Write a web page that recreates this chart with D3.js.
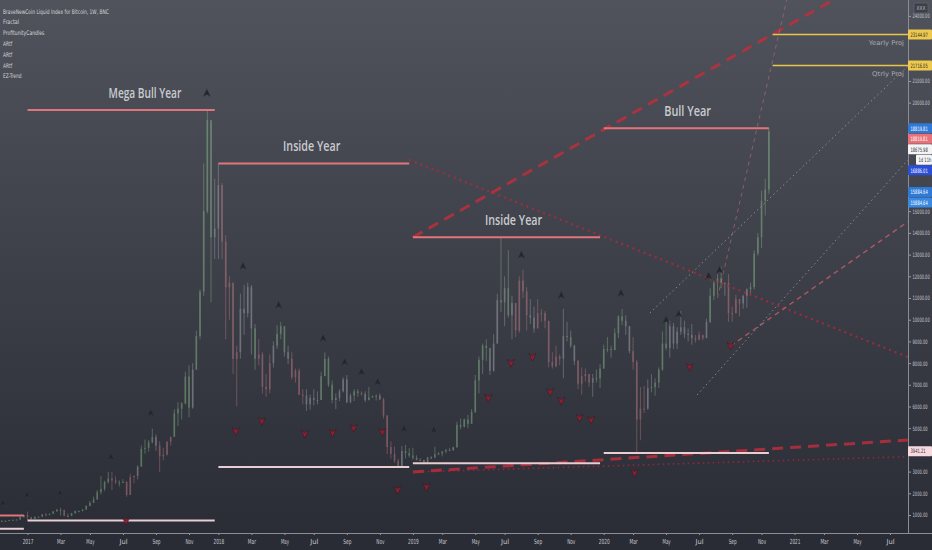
<!DOCTYPE html>
<html><head><meta charset="utf-8">
<script src="https://cdn.jsdelivr.net/npm/d3@7"></script>
<style>
html,body{margin:0;padding:0;background:#2a2c35;}
svg{display:block;font-family:"Liberation Sans Narrow","DejaVu Sans Condensed","Roboto","Liberation Sans",sans-serif;}
</style></head><body>
<svg id="chart" width="932" height="550"></svg>
<script>
// ---------------- DATA ----------------
const firstWeek = "2016-11-14";
const firstOpen = 703;
const closes = [
 730,732,766,780,790,896,1000,
 908,820,920,920,1025,1000,1055,1165,1235,1235,960,960,1080,1180,1180,1250,1420,1560,1720,2050,2200,2520,2680,2590,2500,2500,2520,1920,2750,2800,3230,4050,4090,4350,4600,4200,3700,3780,4380,4600,5680,5900,6140,7380,5950,7700,9250,11300,15000,19200,13800,14200,
 16200,13600,11500,11700,8200,8500,10500,10300,11500,9600,8200,8400,6900,6800,8000,8800,9350,9700,8500,8200,7350,7650,6550,6500,6100,6400,6300,6300,7400,8200,7000,6300,6400,6700,7250,6200,6500,6700,6620,6580,6290,6420,6460,6500,6330,5580,4130,3820,3500,3250,3950,3850,3740,
 3640,3540,3540,3440,3650,3640,3800,3830,3930,3990,3990,4120,5150,5070,5400,5200,5750,7200,8150,8800,8700,7650,8900,10900,10800,11450,10200,10770,9500,11800,11300,10200,10100,9600,10300,10300,9950,8050,7850,8300,8200,9250,9200,8800,8100,7050,7400,7500,7100,7300,7300,7750,
 8650,8650,8600,9380,10150,9950,9700,8550,8050,5400,5900,5900,6850,6900,7100,7700,8900,8700,9700,8900,9450,9650,9350,9300,9150,9080,9300,9150,9900,11100,11700,11900,11700,11700,10300,10300,10950,10750,11100,11400,11500,13050,13800,15480,16000,18675.98
];
const highs = [
 757,752,778,781,791,935,1000,
 1156,910,925,925,1040,1090,1060,1190,1290,1330,1250,1070,1100,1210,1210,1260,1445,1650,1850,2150,2790,2580,2990,2980,2780,2600,2650,2570,2900,2820,3290,4200,4480,4460,4980,4720,4400,4100,4390,4620,5880,6200,6200,7600,7900,8000,9500,11400,17200,19666,19100,16500,
 17200,16300,13900,12000,11700,8800,11200,11600,11700,11600,9800,9100,8500,7500,8400,9000,9750,9900,9700,8800,8500,7750,7750,6800,6800,6550,6800,6700,7600,8500,8300,7200,6600,6800,7350,7450,6600,6800,6800,6700,6700,6900,6510,6550,6600,6400,5600,4400,4150,3600,4180,4230,4080,
 4100,3750,3620,3520,3680,3710,4150,3900,3950,4050,4090,4150,5300,5450,5450,5620,5880,7450,8300,8900,9100,8300,9330,11200,13800,12000,13200,11100,10700,12000,12300,11500,10950,10600,10950,10500,10400,9900,8500,8800,8400,10500,9900,9500,8850,8150,7800,7750,7500,7500,7700,7950,
 8850,9200,8800,9600,10200,10500,10200,9700,9200,8150,6900,6950,7250,7480,7300,7800,9450,10000,9950,9850,9650,10400,9950,9600,9800,9300,9450,9250,10050,11450,11800,12100,12450,11700,12100,10600,11150,10850,11150,11450,11700,13200,14000,15950,16500,18819.81
];
const lows = [
 697,722,728,750,760,790,890,
 780,755,815,880,920,945,990,1050,1160,980,940,890,960,1060,1130,1170,1240,1400,1550,1700,1950,2100,2450,2150,2420,2310,2480,1840,1920,2460,2640,3230,3820,3920,4300,3960,2980,3520,3740,4200,4600,5100,5400,6100,5500,5900,7700,9100,11100,14900,10800,12800,
 12800,12800,9100,10000,7500,6000,8200,9300,10100,8400,7700,7900,6600,6450,6600,7800,8650,9100,8300,7950,7250,7100,6520,6100,5800,5850,6050,6100,6300,7400,6900,6150,5880,6250,6650,6150,6150,6250,6450,6500,6200,6380,6400,6280,6300,5450,3800,3600,3400,3210,3250,3600,3650,
 3550,3520,3500,3380,3390,3580,3750,3760,3700,3840,3950,3950,4100,4950,5030,5000,5250,5700,6600,7500,8100,7450,7600,8900,10350,9700,10100,9100,9200,9400,11000,9500,9800,9400,9600,9900,9600,7800,7750,7800,7900,7300,9000,8700,7900,6800,6550,7150,6900,6450,7100,6850,
 7750,8500,8250,8600,9150,9750,9300,8450,7700,3860,4450,5700,5850,6650,6500,6850,7650,8600,8250,8650,8650,9300,9150,9000,8850,8950,9050,9050,9150,9850,10900,11150,11450,11100,9900,9900,10300,10150,10500,10550,11200,11400,12950,13300,14800,15800
];

// yearly high/low levels
const years = ["2016","2017","2018","2019","2020"];
const yearFirstBar = ["2016-10-01","2017-01-02","2018-01-01","2019-01-07","2020-01-06"];
const yearLastBar  = ["2016-12-26","2017-12-25","2018-12-31","2019-12-30","2020-11-16"];
const yearHighs = [975, 19666, 17200, 13800, 18819.81];
const yearLows  = [365, 752, 3210, 3390, 3860];
const yearTitles = ["", "Mega Bull Year", "Inside Year", "Inside Year", "Bull Year"];
const yearTitleDates = ["", "2017-08-14", "2018-06-28", "2019-07-18", "2020-06-14"];

// fractal markers (date, price)
const upFractalDates = ["2016-11-16","2017-01-01","2017-03-05","2017-06-10","2017-08-25","2017-12-10","2018-02-17","2018-04-26","2018-07-20","2018-08-30","2018-10-01","2018-11-01","2018-12-21","2019-02-16","2019-08-02","2019-10-17","2020-02-08","2020-05-04","2020-05-28","2020-07-24","2020-08-14"];
const upFractalPrices = [1553,1922,2014,3673,5700,20447,12470,10673,9152,8046,7590,7129,4963,4917,12982,11120,11220,9986,10262,12014,12290];
const downFractalDates = ["2017-07-09","2018-02-03","2018-03-25","2018-06-15","2018-08-07","2018-09-16","2018-11-10","2018-12-09","2019-02-02","2019-05-31","2019-07-13","2019-08-23","2019-09-26","2019-10-17","2019-11-21","2019-12-13","2020-03-05","2020-06-18","2020-09-04"];
const downFractalPrices = [718,4862,5323,4733,4779,5009,4825,2152,2290,6392,8005,8281,6668,6253,5470,5378,2935,7820,8788];

// trend / projection lines: [startDate, startPrice, endDate, endPrice]
const trendStartDates = ["2019-01-07","2018-12-31","2019-01-07","2019-01-07","2020-09-04","2020-04-03","2020-07-02","2020-08-10"];
const trendStartPrices = [13800,17370,2982,2980,8788,10309,6530,11000];
const trendEndDates = ["2021-03-20","2021-08-08","2021-08-08","2021-08-08","2021-08-08","2021-08-08","2021-08-08","2020-12-20"];
const trendEndPrices = [24750,8281,4456,3690,14516,21690,17359,24730];
const trendKinds = ["thickDash","redDot","thickDash","thinDot","pinkDash","grayDot","grayDot","pinkDashFaint"];

const projNames = ["Yearly Proj","Qtrly Proj"];
const projValues = [23144.97, 21716.05];
const projStart = "2020-11-23";

// right price-scale labels
const priceLabelTexts = ["18819.81","18819.81","18675.98","1d 11h","16886.01","15884.64","15884.64","3941.21"];
const priceLabelValues = [18819.81,18819.81,18675.98,18675.98,16886.01,15884.64,15884.64,3941.21];
const priceLabelKinds = ["blue","red","white","timer","navy","blue","blue2","pink"];

const legendLines = ["BraveNewCoin Liquid Index for Bitcoin, 1W, BNC","Fractal","ProfitunityCandles","ARtf","ARtf","ARtf","EZ-Trend"];
const yTickValues = d3.range(1000, 24001, 1000);

// ---------------- CHART ----------------
const W = 932, H = 550, plotW = 908, plotH = 533;
const NARROW = "'Liberation Sans Narrow','DejaVu Sans Condensed','Liberation Sans',sans-serif";
const parse = d3.utcParse("%Y-%m-%d");
const svg = d3.select("#chart");

const x = d3.scaleUtc().domain([parse("2017-01-01"), parse("2021-01-01")]).range([27, 793]);
const y = d3.scaleLinear().domain([0, 24000]).range([536.7, 15.9]);

const defs = svg.append("defs");
const grad = defs.append("linearGradient").attr("id","bg").attr("x1",0).attr("x2",0).attr("y1",0).attr("y2",1);
grad.append("stop").attr("offset","0%").attr("stop-color","#50535b");
grad.append("stop").attr("offset","55%").attr("stop-color","#3c3e47");
grad.append("stop").attr("offset","100%").attr("stop-color","#2a2c36");
defs.append("clipPath").attr("id","plotclip").append("rect").attr("x",0).attr("y",0).attr("width",plotW).attr("height",plotH);

svg.append("rect").attr("width",W).attr("height",H).attr("fill","#2a2c35");
svg.append("rect").attr("width",W).attr("height",plotH).attr("fill","url(#bg)");

const plot = svg.append("g").attr("clip-path","url(#plotclip)");

// bars
const bars = closes.map((c,i)=>({
  date: d3.utcDay.offset(parse(firstWeek), 7*i),
  open: i===0 ? firstOpen : closes[i-1],
  close: c, high: highs[i], low: lows[i]
}));
// Profitunity-style colouring (AO / AC momentum)
const med = bars.map(b=>(b.high+b.low)/2);
const sma = (arr,n,i)=>{ if(i<n-1) return null; let s=0; for(let k=i-n+1;k<=i;k++) s+=arr[k]; return s/n; };
const ao = med.map((_,i)=>{ const a=sma(med,5,i), b=sma(med,34,i); return (a==null||b==null)?null:a-b; });
const aoF = ao.map(v=>v==null?0:v);
const ac = ao.map((v,i)=>{ const s=sma(aoF,5,i); return (v==null||s==null)?null:v-s; });
bars.forEach((b,i)=>{
  let col = "#b4b6bc";
  if(i>0 && ao[i]!=null && ao[i-1]!=null && ac[i]!=null && ac[i-1]!=null){
    if(ao[i]>ao[i-1] && ac[i]>ac[i-1]) col="#93c995";
    else if(ao[i]<ao[i-1] && ac[i]<ac[i-1]) col="#d3878f";
  } else {
    col = b.close>=b.open ? "#93c995" : "#d3878f";
  }
  b.color = col;
});

const barG = plot.append("g").attr("opacity",0.45);
barG.selectAll("line.wick").data(bars).join("line")
  .attr("x1",d=>x(d.date)).attr("x2",d=>x(d.date))
  .attr("y1",d=>y(d.high)).attr("y2",d=>y(d.low))
  .attr("stroke",d=>d.color).attr("stroke-width",0.8);
barG.selectAll("rect.body").data(bars).join("rect")
  .attr("x",d=>x(d.date)-0.8).attr("width",1.6)
  .attr("y",d=>y(Math.max(d.open,d.close)))
  .attr("height",d=>Math.max(1,Math.abs(y(d.open)-y(d.close))))
  .attr("fill",d=>d.color);

// trend lines
const trendStyle = {
  thickDash:{stroke:"#c22e3c",w:3,dash:"11,7",op:0.8},
  redDot:{stroke:"#b9283a",w:2.2,dash:"2,4",op:0.75},
  thinDot:{stroke:"#b9283a",w:1.6,dash:"1.5,3.5",op:0.7},
  pinkDash:{stroke:"#d0616c",w:1.4,dash:"5,4",op:0.75},
  grayDot:{stroke:"#a9abb2",w:1,dash:"1.5,3",op:0.7},
  pinkDashFaint:{stroke:"#c9707a",w:1,dash:"4,4",op:0.55}
};
trendKinds.forEach((k,i)=>{
  const s = trendStyle[k];
  plot.append("line")
    .attr("x1",x(parse(trendStartDates[i]))).attr("y1",y(trendStartPrices[i]))
    .attr("x2",x(parse(trendEndDates[i]))).attr("y2",y(trendEndPrices[i]))
    .attr("stroke",s.stroke).attr("stroke-width",s.w).attr("stroke-dasharray",s.dash).attr("opacity",s.op);
});

// yearly levels
years.forEach((yr,i)=>{
  const x1 = x(parse(yearFirstBar[i])), x2 = x(parse(yearLastBar[i]));
  plot.append("line").attr("x1",x1).attr("x2",x2).attr("y1",y(yearHighs[i])).attr("y2",y(yearHighs[i]))
    .attr("stroke","#e0767c").attr("stroke-width",2);
  plot.append("line").attr("x1",x1).attr("x2",x2).attr("y1",y(yearLows[i])).attr("y2",y(yearLows[i]))
    .attr("stroke","#e8cdd3").attr("stroke-width",2);
  if(yearTitles[i]){
    plot.append("text").attr("x",x(parse(yearTitleDates[i]))).attr("y",y(yearHighs[i])-12)
      .attr("text-anchor","middle").attr("fill","#c9cbd0").attr("font-size",14).attr("font-weight",600)
      .attr("font-family","'Open Sans','Liberation Sans',sans-serif")
      .attr("textLength", yearTitles[i].length*5.2).attr("lengthAdjust","spacingAndGlyphs")
      .text(yearTitles[i]);
  }
});

// projections
projValues.forEach((v,i)=>{
  plot.append("line").attr("x1",x(parse(projStart))).attr("x2",plotW).attr("y1",y(v)).attr("y2",y(v))
    .attr("stroke","#eac54c").attr("stroke-width",1.4);
  plot.append("text").attr("x",plotW-4).attr("y",y(v)+11).attr("text-anchor","end")
    .attr("fill","#a9abb1").attr("font-size",6.5).attr("font-family",NARROW)
    .attr("textLength", projNames[i].length*3.2).attr("lengthAdjust","spacingAndGlyphs")
    .text(projNames[i]);
});

// fractals
const upPath = "M0,-4.2 L3.6,3.6 L0,1.4 L-3.6,3.6 Z";
const dnPath = "M0,4.2 L3.6,-3.6 L0,-1.4 L-3.6,-3.6 Z";
upFractalDates.forEach((d,i)=>{
  plot.append("path").attr("d",upPath).attr("transform",`translate(${x(parse(d))},${y(upFractalPrices[i])})`)
    .attr("fill","#23252c").attr("stroke","#3a3c44").attr("stroke-width",0.5);
});
downFractalDates.forEach((d,i)=>{
  plot.append("path").attr("d",dnPath).attr("transform",`translate(${x(parse(d))},${y(downFractalPrices[i])})`)
    .attr("fill","#8f2034").attr("stroke","#3a1a22").attr("stroke-width",0.6);
});

// ---------------- AXES ----------------
const xTicks = d3.utcMonth.range(parse("2017-01-01"), parse("2021-08-01"), 2).map(d=>d3.utcMonday.ceil(d));
const xAxis = d3.axisBottom(x).tickValues(xTicks).tickSize(2)
  .tickFormat(d=> d.getUTCMonth()===0 ? d3.utcFormat("%Y")(d) : d3.utcFormat("%b")(d));
const xg = svg.append("g").attr("transform",`translate(0,${plotH})`).call(xAxis);
xg.select(".domain").remove();
xg.selectAll(".tick line").attr("stroke","#9a9ca4");
xg.selectAll(".tick text").attr("fill","#c6c8cd").attr("font-size",7).attr("dy","0.9em")
  .attr("font-family",NARROW)
  .each(function(){ const t=d3.select(this).text(); d3.select(this).attr("textLength", t.length*2.7).attr("lengthAdjust","spacingAndGlyphs"); });
svg.append("line").attr("x1",0).attr("x2",W).attr("y1",plotH+0.5).attr("y2",plotH+0.5).attr("stroke","#8a8d96").attr("stroke-width",1);

// positions of the scale labels (with simple stacking), used to hide covered ticks
const boxYs = [];
projValues.forEach(v=>boxYs.push(y(v)));
const stackedY = [];
let lastY = -100;
priceLabelValues.forEach((v,i)=>{
  let cy = y(v);
  if(cy < lastY + 10.5) cy = lastY + 10.5;
  lastY = cy;
  stackedY.push(cy); boxYs.push(cy);
});
const visibleYTicks = yTickValues.filter(v=>boxYs.every(b=>Math.abs(y(v)-b)>8));

const yAxis = d3.axisRight(y).tickValues(visibleYTicks).tickSize(3).tickFormat(d=>d.toFixed(2));
const yg = svg.append("g").attr("transform",`translate(${plotW},0)`).call(yAxis);
yg.select(".domain").remove();
yg.selectAll(".tick line").attr("stroke","#9a9ca4");
yg.selectAll(".tick text").attr("fill","#c6c8cd").attr("font-size",6).attr("x",4.5)
  .attr("font-family",NARROW)
  .each(function(){ const t=d3.select(this).text(); d3.select(this).attr("textLength", t.length*2.15).attr("lengthAdjust","spacingAndGlyphs"); });
svg.append("line").attr("x1",plotW+0.5).attr("x2",plotW+0.5).attr("y1",0).attr("y2",plotH).attr("stroke","#8a8d96").attr("stroke-width",1);

// price labels on scale
const boxColors = {
  yellow:{bg:"#eec94d",fg:"#2a2a2a"}, blue:{bg:"#2f7ad8",fg:"#ffffff"}, red:{bg:"#e8717a",fg:"#ffffff"},
  white:{bg:"#f4f4f6",fg:"#333"}, timer:{bg:"#f4f4f6",fg:"#333"}, navy:{bg:"#2a4fd6",fg:"#ffffff"},
  blue2:{bg:"#3a8ae2",fg:"#ffffff"}, pink:{bg:"#f7dadf",fg:"#3a2a2e"}
};
function drawBox(cy, text, kind, x0){
  const c = boxColors[kind];
  svg.append("rect").attr("x",x0).attr("y",cy-5).attr("width",W-x0).attr("height",10).attr("fill",c.bg).attr("rx",1);
  svg.append("text").attr("x",x0+2.5).attr("y",cy+2.3).attr("fill",c.fg).attr("font-size",6)
    .attr("font-family",NARROW)
    .attr("textLength", text.length*2.15).attr("lengthAdjust","spacingAndGlyphs").text(text);
}
projValues.forEach(v=>drawBox(y(v), v.toFixed(2), "yellow", plotW));
priceLabelTexts.forEach((t,i)=>{
  drawBox(stackedY[i], t, priceLabelKinds[i], priceLabelKinds[i]==="timer" ? 916 : plotW);
});

// currency box
svg.append("rect").attr("x",914).attr("y",3).attr("width",14).attr("height",10).attr("fill","#3d4048").attr("stroke","#6a6d75").attr("stroke-width",0.6).attr("rx",1.5);
svg.append("text").attr("x",921).attr("y",10.3).attr("text-anchor","middle").attr("fill","#b8bac0").attr("font-size",5.5)
  .attr("textLength",9).attr("lengthAdjust","spacingAndGlyphs").text("XXX");

// legend
legendLines.forEach((t,i)=>{
  svg.append("text").attr("x",3).attr("y",13.5+i*10.8).attr("fill","#d2d4d8").attr("font-size",6.3)
    .attr("font-family",NARROW)
    .attr("textLength", t.length*2.3).attr("lengthAdjust","spacingAndGlyphs")
    .text(t);
});
</script>
</body></html>
